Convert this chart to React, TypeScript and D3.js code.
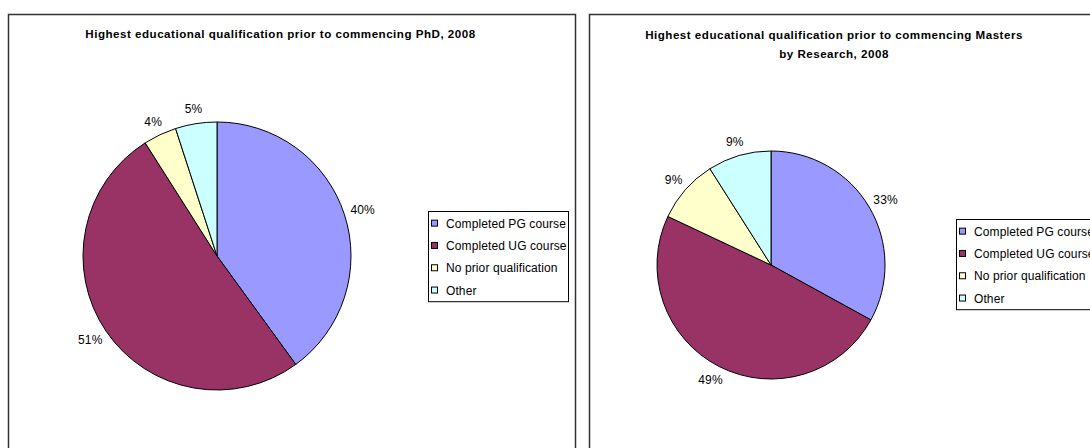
import React from "react";
import * as d3 from "d3";

const categories = ["Completed PG course", "Completed UG course", "No prior qualification", "Other"];
const colors = ["#9999FF", "#993366", "#FFFFCC", "#CCFFFF"];
const phdValues = [40, 51, 4, 5];
const mresValues = [33, 49, 9, 9];
const phdTitle = ["Highest educational qualification prior to commencing PhD, 2008"];
const mresTitle = ["Highest educational qualification prior to commencing Masters", "by Research, 2008"];

const FONT = "'Liberation Sans', Arial, sans-serif";

type PanelProps = {
  values: number[];
  title: string[];
  cx: number;
  cy: number;
  r: number;
  titleX: number;
  titleY: number;
  titleGap: number;
  legendX: number;
  legendY: number;
  legendW: number;
  legendRow: number;
};

function PiePanel(p: PanelProps) {
  const pie = d3.pie<number>().sort(null).value((d) => d)(p.values);
  const arc = d3.arc<d3.PieArcDatum<number>>().innerRadius(0).outerRadius(p.r);
  const total = d3.sum(p.values);
  return (
    <g>
      {p.title.map((t, i) => (
        <text key={i} x={p.titleX} y={p.titleY + i * p.titleGap} textAnchor="middle"
          fontFamily={FONT} fontWeight="bold" fontSize={11.6} letterSpacing={0.5} fill="#000">{t}</text>
      ))}
      <g transform={`translate(${p.cx},${p.cy})`}>
        {pie.map((s, i) => (
          <path key={i} d={arc(s) || ""} fill={colors[i]} stroke="#000" strokeWidth={1} />
        ))}
        {pie.map((s, i) => {
          const a = (s.startAngle + s.endAngle) / 2;
          const sx = Math.sin(a), sy = -Math.cos(a);
          const label = `${Math.round((s.value / total) * 100)}%`;
          const w = label.length * 6.8, h = 12;
          const ax = (p.r + 9) * sx + (w / 2) * sx;
          const ay = (p.r + 9) * sy + (h / 2) * sy;
          return (
            <text key={i} x={ax} y={ay + 4.5} textAnchor="middle" fontFamily={FONT} fontSize={12} letterSpacing={0.2} fill="#000">{label}</text>
          );
        })}
      </g>
      <g transform={`translate(${p.legendX},${p.legendY})`}>
        <rect x={0.5} y={0.5} width={p.legendW} height={p.legendRow * 4 + 1} fill="#fff" stroke="#000" strokeWidth={1} />
        {categories.map((c, i) => (
          <g key={c} transform={`translate(0,${p.legendRow * (i + 0.5) + 1})`}>
            <rect x={3.5} y={-3} width={6} height={6} fill={colors[i]} stroke="#000" strokeWidth={1} />
            <text x={18} y={4.5} fontFamily={FONT} fontSize={12} letterSpacing={0.1} fill="#000">{c}</text>
          </g>
        ))}
      </g>
    </g>
  );
}

export default function App() {
  return (
    <svg width={1090} height={448} style={{ position: "absolute", left: 0, top: 0, background: "#fff" }}>
      <rect x={0} y={0} width={1090} height={448} fill="#fff" />
      <rect x={8.5} y={14.5} width={567} height={460} fill="#fff" stroke="#333" strokeWidth={1.5} />
      <rect x={589.5} y={14.5} width={540} height={460} fill="#fff" stroke="#333" strokeWidth={1.5} />
      <PiePanel values={phdValues} title={phdTitle} cx={217} cy={256} r={134}
        titleX={280.5} titleY={38} titleGap={19}
        legendX={428} legendY={211} legendW={140} legendRow={22.3} />
      <PiePanel values={mresValues} title={mresTitle} cx={771} cy={265} r={114}
        titleX={834} titleY={39} titleGap={19}
        legendX={956} legendY={219} legendW={140} legendRow={22.3} />
    </svg>
  );
}
